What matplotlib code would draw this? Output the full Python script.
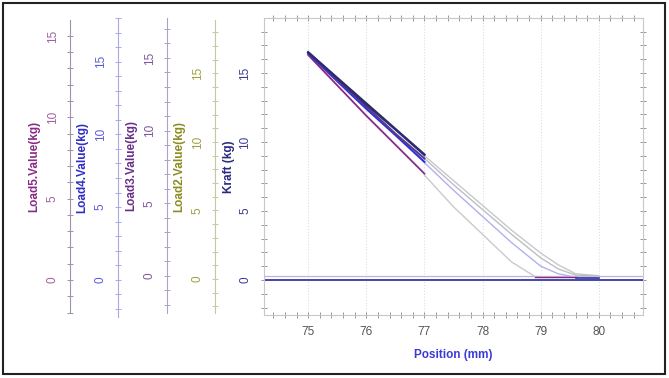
import matplotlib.pyplot as plt
from matplotlib.ticker import MultipleLocator
from matplotlib.patches import Rectangle

plt.rcParams["font.family"] = ["Liberation Sans", "DejaVu Sans"]
plt.rcParams["font.size"] = 8

W, H = 669, 378

# first part of the stroke (75 -> 77 mm), one line per channel
x_part1 = [75, 75.5, 76, 76.5, 77]
kraft_part1 = [16.5, 14.6, 12.7, 10.9, 9.05]
load2_part1 = [16.5, 14.65, 12.8, 10.95, 9.1]
load3_part1 = [16.45, 14.5, 12.55, 10.6, 8.8]
load4_part1 = [16.4, 14.4, 12.4, 10.5, 8.55]
load5_part1 = [16.3, 14.1, 11.9, 9.8, 7.7]

# release part (77 -> 80 mm), faint lines
x_part2 = [77, 77.5, 78, 78.5, 79, 79.3, 79.6, 80]
rel_a = [9.0, 7.2, 5.4, 3.6, 1.95, 1.1, 0.45, 0.3]
rel_b = [8.8, 6.9, 5.1, 3.3, 1.6, 0.8, 0.35, 0.3]
rel_blue = [8.5, 6.5, 4.6, 2.7, 1.0, 0.45, 0.2, 0.12]
x_rel_c = [77, 77.5, 78, 78.5, 78.9, 79.5, 80]
rel_c = [7.6, 5.3, 3.3, 1.3, 0.25, 0.22, 0.2]
x_flat = [78.9, 79.6]
flat_y = [0.22, 0.22]
x_end = [79.6, 80]
end_y = [0.12, 0.12]
baseline = 0.0
offset_line = 0.25

# extra axes: name, x pixel, top, bottom, ylim, label colour, tick colour, spine colour
extra_axes = [
    ("Load5.Value(kg)", 70, 20, 313, (-2.03, 15.98), "#8B2A86", "#A060A0", "#A090A8"),
    ("Load4.Value(kg)", 118, 18, 317, (-2.55, 18.0), "#2E2EC8", "#5A5AD8", "#A8A8E8"),
    ("Load3.Value(kg)", 167, 18, 313, (-2.55, 17.75), "#6A2E8A", "#7E55A0", "#B0A0C8"),
    ("Load2.Value(kg)", 215, 20, 313, (-2.48, 18.9), "#8C8C20", "#A0A040", "#C8C8A0"),
]


def rect(l, t, r, b):
    return [l / W, 1 - b / H, (r - l) / W, (b - t) / H]


fig = plt.figure(figsize=(W / 100, H / 100), dpi=100)
fig.patches.append(Rectangle((3 / W, 4 / H), 662 / W, 371 / H, transform=fig.transFigure,
                             fill=False, edgecolor="#222222", linewidth=1.5))

for name, xp, top, bot, lim, lab_c, tick_c, spine_c in extra_axes:
    a = fig.add_axes(rect(xp, top, xp + 1, bot))
    a.patch.set_visible(False)
    for s in ["top", "right", "bottom"]:
        a.spines[s].set_visible(False)
    a.spines["left"].set_color(spine_c)
    a.set_xticks([])
    a.set_ylim(*lim)
    a.yaxis.set_major_locator(MultipleLocator(5))
    a.yaxis.set_minor_locator(MultipleLocator(1))
    a.tick_params(axis="y", which="both", direction="inout", colors=spine_c, labelcolor=tick_c,
                  length=4, width=0.7, pad=6, labelsize=8.5)
    for lbl in a.get_yticklabels():
        lbl.set_rotation(90)
        lbl.set_va("center")
    a.set_ylabel(name, color=lab_c, fontweight="bold", fontsize=8.5, labelpad=5)

ax = fig.add_axes(rect(264, 18, 643, 315))
ax.set_xlim(74.24, 80.76)
ax.set_ylim(-2.54, 18.98)
for s in ax.spines.values():
    s.set_color("#C8C8C8")
ax.xaxis.set_major_locator(MultipleLocator(1))
ax.xaxis.set_minor_locator(MultipleLocator(0.2))
ax.yaxis.set_major_locator(MultipleLocator(5))
ax.yaxis.set_minor_locator(MultipleLocator(1))
ax.tick_params(axis="x", which="both", direction="inout", top=True, colors="#999999",
               labelcolor="#555555", length=4, width=0.7, pad=6, labelsize=8.5)
ax.tick_params(axis="y", which="both", direction="inout", right=True, colors="#999999",
               labelcolor="#3A3A9A", length=4, width=0.7, pad=7, labelsize=8.5)
for lbl in ax.get_yticklabels():
    lbl.set_rotation(90)
    lbl.set_va("center")
ax.grid(axis="x", which="major", color="#DDDDDD", linestyle=":", linewidth=0.8)

ax.axhline(offset_line, color="#BFB0DD", linewidth=0.9)
ax.axhline(baseline, color="#3535A5", linewidth=1.3)

ax.plot(x_part2, rel_a, color="#C8C8C8", linewidth=1.0)
ax.plot(x_part2, rel_b, color="#BDBDC8", linewidth=1.0)
ax.plot(x_part2, rel_blue, color="#B0B0F0", linewidth=1.0)
ax.plot(x_rel_c, rel_c, color="#CACACA", linewidth=1.0)
ax.plot(x_flat, flat_y, color="#8B2A86", linewidth=1.0)
ax.plot(x_end, end_y, color="#3535A5", linewidth=1.2)

ax.plot(x_part1, load5_part1, color="#8B2A86", linewidth=1.3)
ax.plot(x_part1, load4_part1, color="#2E2EE0", linewidth=1.5)
ax.plot(x_part1, load3_part1, color="#5A3A8A", linewidth=1.5)
ax.plot(x_part1, load2_part1, color="#333340", linewidth=1.5)
ax.plot(x_part1, kraft_part1, color="#2A2A80", linewidth=1.5)

ax.set_xlabel("Position (mm)", color="#3A3AD8", fontweight="bold", fontsize=8.5, labelpad=8)
ax.set_ylabel("Kraft (kg)", color="#2A2A80", fontweight="bold", fontsize=8.5, labelpad=3)

fig.savefig("out.png", dpi=100)
